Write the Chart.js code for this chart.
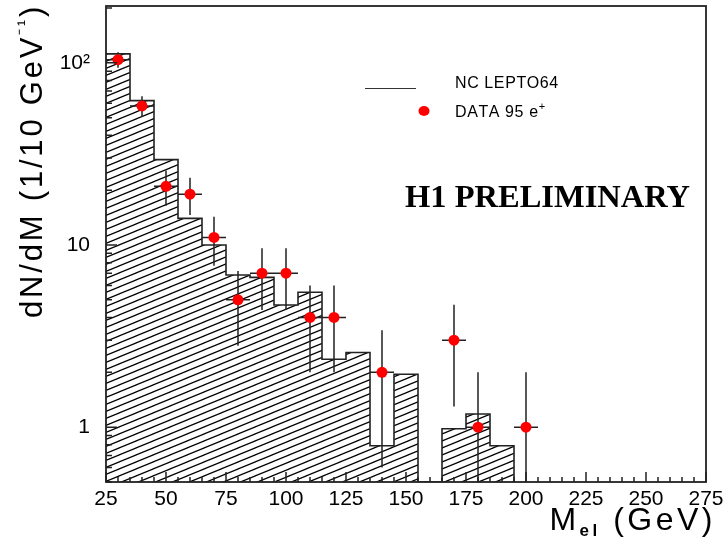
<!DOCTYPE html>
<html>
<head>
<meta charset="utf-8">
<title>dN/dM</title>
<script src="https://cdn.jsdelivr.net/npm/chart.js@4.4.1/dist/chart.umd.min.js"></script>
<style>
  html, body { margin: 0; padding: 0; background: #fff; }
  #wrap { width: 727px; height: 538px; }
</style>
</head>
<body>
<div id="wrap"><canvas id="massChart" width="727" height="538"></canvas></div>
<script>
// Monte Carlo (NC LEPTO64) histogram: bin edges in GeV and content per 10 GeV bin
const binEdges = [25, 35, 45, 55, 65, 75, 85, 95, 105, 115, 125, 135, 145, 155, 165, 175, 185, 195];
const mcValues = [112, 62, 29.4, 14.0, 10.0, 6.84, 6.64, 4.68, 5.5, 2.36, 2.57, 0.79, 1.95, 0, 0.98, 1.18, 0.79];

// 95 e+ data: bin centre, counts and statistical error
const dataMass = [30, 40, 50, 60, 70, 80, 90, 100, 110, 120, 140, 170, 180, 200];
const dataCounts = [104, 58, 21, 19, 11, 5, 7, 7, 4, 4, 2, 3, 1, 1];
const dataErrors = [10.2, 7.6, 4.6, 4.4, 3.3, 2.2, 2.6, 2.6, 2.0, 2.0, 1.4, 1.7, 1.0, 1.0];
const massHalfWidth = 5;

// axis ranges and labelled ticks
const X_MIN = 25, X_MAX = 275, X_STEP = 5, X_LABEL_STEP = 25;
const Y_MIN = 0.5, Y_MAX = 205;
const yTickLabels = { 1: '1', 10: '10', 100: '10\u00B2' };

const FONT = "'Liberation Sans', Arial, Helvetica, sans-serif";

// diagonal hatching used to fill the histogram
function makeHatch() {
    const w = 17, h = 7;
    const c = document.createElement('canvas');
    c.width = w; c.height = h;
    const g = c.getContext('2d');
    g.strokeStyle = '#000';
    g.lineWidth = 1.25;
    g.beginPath();
    for (let k = -2; k <= 2; k++) {
        g.moveTo(-w, 2 * h + k * h);
        g.lineTo(2 * w, -h + k * h);
    }
    g.stroke();
    return g.createPattern(c, 'repeat');
}

// stepped outline: one point per left bin edge, closing at the last edge
function histogramPoints() {
    const pts = mcValues.map((v, i) => ({ x: binEdges[i], y: Math.max(v, Y_MIN) }));
    pts.push({ x: binEdges[binEdges.length - 1], y: Y_MIN });
    return pts;
}

function isDecadeMultiple(v) {
    const m = v / Math.pow(10, Math.floor(Math.log10(v) + 1e-9));
    return Math.abs(m - Math.round(m)) < 1e-6 ? Math.round(m) : 0;
}

// draws pieces of text of different size / offset one after another
function richWidth(ctx, parts, spacing) {
    let w = 0;
    parts.forEach(p => {
        ctx.font = (p.weight || 'normal') + ' ' + p.size + 'px ' + FONT;
        w += ctx.measureText(p.text).width + spacing * p.text.length;
    });
    return w;
}
function drawRich(ctx, parts, x, y, spacing) {
    parts.forEach(p => {
        ctx.font = (p.weight || 'normal') + ' ' + p.size + 'px ' + FONT;
        for (const ch of p.text) {
            ctx.fillText(ch, x, y + (p.dy || 0));
            x += ctx.measureText(ch).width + spacing;
        }
    });
}

// no extra room for first/last tick labels: the frame is placed by the layout padding
function noLabelPadding(scale) {
    scale.paddingTop = 0;
    scale.paddingBottom = 0;
    scale.paddingLeft = 0;
    scale.paddingRight = 0;
}

const errorBars = {
    id: 'errorBars',
    beforeDatasetDraw(chart, args) {
        if (chart.data.datasets[args.index].label !== 'DATA 95 e+') return;
        const { ctx, chartArea: a, scales: { x, y } } = chart;
        ctx.save();
        ctx.beginPath();
        ctx.rect(a.left, a.top, a.right - a.left, a.bottom - a.top);
        ctx.clip();
        ctx.strokeStyle = '#222';
        ctx.lineWidth = 1.5;
        ctx.beginPath();
        dataMass.forEach((m, i) => {
            const px = x.getPixelForValue(m);
            const py = y.getPixelForValue(dataCounts[i]);
            const top = y.getPixelForValue(dataCounts[i] + dataErrors[i]);
            const bot = y.getPixelForValue(Math.max(dataCounts[i] - dataErrors[i], Y_MIN));
            ctx.moveTo(px, top); ctx.lineTo(px, bot);
            ctx.moveTo(x.getPixelForValue(m - massHalfWidth), py);
            ctx.lineTo(x.getPixelForValue(m + massHalfWidth), py);
        });
        ctx.stroke();
        ctx.restore();
    }
};

const frameAndTicks = {
    id: 'frameAndTicks',
    afterDatasetsDraw(chart) {
        const { ctx, chartArea: a, scales: { x, y } } = chart;
        ctx.save();
        ctx.strokeStyle = '#222';
        ctx.lineWidth = 1.5;
        ctx.beginPath();
        x.ticks.forEach(t => {
            const px = x.getPixelForValue(t.value);
            const len = t.value % X_LABEL_STEP === 0 ? 10 : 5;
            ctx.moveTo(px, a.bottom); ctx.lineTo(px, a.bottom - len);
        });
        y.ticks.forEach(t => {
            const m = isDecadeMultiple(t.value);
            if (!m) return;
            const py = y.getPixelForValue(t.value);
            const len = m === 1 ? 11 : 6;
            ctx.moveTo(a.left, py); ctx.lineTo(a.left + len, py);
        });
        ctx.stroke();
        ctx.lineWidth = 1.8;
        ctx.strokeRect(a.left, a.top, a.right - a.left, a.bottom - a.top);
        ctx.restore();
    }
};

// axis titles, legend and the preliminary stamp
const annotations = {
    id: 'annotations',
    afterDraw(chart) {
        const { ctx, chartArea: a } = chart;
        ctx.save();
        ctx.fillStyle = '#000';
        ctx.textBaseline = 'alphabetic';
        ctx.textAlign = 'left';

        // y title, rotated, ending at the top of the frame
        const yParts = [
            { text: 'dN/dM (1/10 GeV', size: 31 },
            { text: '\u207B\u00B9', size: 18, dy: -12 },
            { text: ')', size: 31 }
        ];
        const yw = richWidth(ctx, yParts, 2.8);
        ctx.save();
        ctx.translate(42, 4 + yw);
        ctx.rotate(-Math.PI / 2);
        drawRich(ctx, yParts, 0, 0, 2.8);
        ctx.restore();

        // x title with subscript
        const xParts = [
            { text: 'M', size: 32 },
            { text: 'el', size: 17, weight: 'bold', dy: 6 },
            { text: ' (GeV)', size: 32 }
        ];
        const xw = richWidth(ctx, xParts, 3.5);
        drawRich(ctx, xParts, 716 - xw, 530, 3.5);

        // legend
        ctx.strokeStyle = '#333';
        ctx.lineWidth = 1;
        ctx.beginPath();
        ctx.moveTo(365, 88.5); ctx.lineTo(416, 88.5);
        ctx.stroke();
        ctx.fillStyle = '#ff0000';
        ctx.beginPath();
        ctx.ellipse(424, 111, 5.5, 5, 0, 0, Math.PI * 2);
        ctx.fill();
        ctx.fillStyle = '#000';
        drawRich(ctx, [{ text: 'NC LEPTO64', size: 16 }], 455, 88, 0.6);
        drawRich(ctx, [{ text: 'DATA 95 e', size: 16 }, { text: '+', size: 11, dy: -7 }], 455, 117, 0.6);

        ctx.font = "bold 32.5px 'Liberation Serif', 'Times New Roman', serif";
        ctx.fillText('H1 PRELIMINARY', 405, 207);
        ctx.restore();
    }
};

const ctx = document.getElementById('massChart').getContext('2d');
new Chart(ctx, {
    type: 'line',
    data: {
        datasets: [
            {
                type: 'scatter',
                label: 'DATA 95 e+',
                data: dataMass.map((m, i) => ({ x: m, y: dataCounts[i] })),
                backgroundColor: '#ff0000',
                borderWidth: 0,
                pointRadius: 5.5,
                pointHoverRadius: 5.5,
                order: 0
            },
            {
                type: 'line',
                label: 'NC LEPTO64',
                data: histogramPoints(),
                stepped: true,
                borderColor: '#222',
                borderWidth: 1.6,
                backgroundColor: makeHatch(),
                fill: 'start',
                pointRadius: 0,
                order: 1
            }
        ]
    },
    options: {
        responsive: false,
        animation: false,
        events: [],
        layout: { padding: { top: 6, right: 21, left: 0, bottom: 0 } },
        plugins: {
            legend: { display: false },
            tooltip: { enabled: false }
        },
        scales: {
            x: {
                type: 'linear',
                min: X_MIN,
                max: X_MAX,
                grid: { display: false, drawTicks: false },
                border: { display: false },
                afterFit(scale) { scale.height = 56; noLabelPadding(scale); },
                ticks: {
                    stepSize: X_STEP,
                    autoSkip: false,
                    maxRotation: 0,
                    padding: 5,
                    color: '#000',
                    font: { family: FONT, size: 21 },
                    callback: v => (v % X_LABEL_STEP === 0 ? String(v) : '')
                }
            },
            y: {
                type: 'logarithmic',
                min: Y_MIN,
                max: Y_MAX,
                grid: { display: false, drawTicks: false },
                border: { display: false },
                afterFit(scale) { scale.width = 106; noLabelPadding(scale); },
                ticks: {
                    autoSkip: false,
                    padding: 16,
                    color: '#000',
                    font: { family: FONT, size: 21 },
                    callback: v => {
                        for (const k in yTickLabels) {
                            if (Math.abs(v - Number(k)) < 1e-9) return yTickLabels[k];
                        }
                        return '';
                    }
                }
            }
        }
    },
    plugins: [errorBars, frameAndTicks, annotations]
});
</script>
</body>
</html>
